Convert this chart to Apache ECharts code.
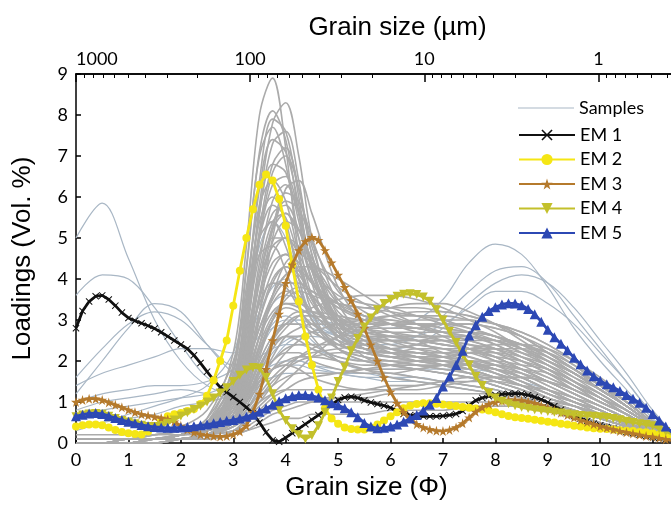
<!DOCTYPE html>
<html><head><meta charset="utf-8">
<script src="https://cdn.jsdelivr.net/npm/echarts@6/dist/echarts.min.js"></script>
<style>html,body{margin:0;padding:0;background:#fff}#c{width:671px;height:506px}</style>
</head><body><div id="c"></div>
<script>
// ---- data ----
const phiEM = [0,0.125,0.25,0.375,0.5,0.625,0.75,0.875,1,1.125,1.25,1.375,1.5,1.625,1.75,1.875,
  2,2.125,2.25,2.375,2.5,2.625,2.75,2.875,3,3.125,3.25,3.375,3.5,3.625,3.75,3.875,
  4,4.125,4.25,4.375,4.5,4.625,4.75,4.875,5,5.125,5.25,5.375,5.5,5.625,5.75,5.875,
  6,6.125,6.25,6.375,6.5,6.625,6.75,6.875,7,7.125,7.25,7.375,7.5,7.625,7.75,7.875,
  8,8.125,8.25,8.375,8.5,8.625,8.75,8.875,9,9.125,9.25,9.375,9.5,9.625,9.75,9.875,
  10,10.125,10.25,10.375,10.5,10.625,10.75,10.875,11,11.125,11.25,11.375];
const em1 = [2.80,3.22,3.45,3.58,3.60,3.50,3.35,3.18, 3.05,2.98,2.92,2.86,2.79,2.70,2.60,2.50,
  2.40,2.30,2.14,1.95,1.74,1.54,1.36,1.24, 1.12,1.00,0.87,0.72,0.50,0.26,0.07,0.03,
  0.13,0.24,0.35,0.46,0.57,0.68,0.80,0.93, 1.05,1.11,1.13,1.10,1.04,0.99,0.95,0.91,
  0.86,0.78,0.71,0.68,0.66,0.65,0.65,0.65, 0.66,0.68,0.71,0.78,0.92,1.04,1.10,1.14,
  1.17,1.19,1.20,1.21,1.20,1.17,1.12,1.06, 0.99,0.90,0.81,0.73,0.66,0.60,0.53,0.47,
  0.43,0.39,0.35,0.31,0.27,0.24,0.20,0.17, 0.15,0.13,0.09,0.05];
const em2 = [0.40,0.43,0.45,0.45,0.43,0.38,0.32,0.27, 0.24,0.22,0.21,0.28,0.40,0.55,0.65,0.70,
  0.73,0.78,0.83,0.95,1.15,1.53,2.00,2.50, 3.35,4.20,5.00,5.70,6.30,6.55,6.40,5.95,
  5.30,4.35,3.45,2.60,1.90,1.30,0.85,0.60, 0.47,0.38,0.34,0.33,0.33,0.38,0.45,0.55,
  0.65,0.75,0.85,0.91,0.95,0.97,0.97,0.96, 0.94,0.92,0.90,0.88,0.86,0.84,0.82,0.79,
  0.75,0.70,0.66,0.63,0.61,0.59,0.57,0.54, 0.52,0.50,0.47,0.45,0.42,0.40,0.38,0.36,
  0.35,0.34,0.33,0.31,0.30,0.29,0.27,0.26, 0.24,0.21,0.18,0.15];
const em3 = [1.00,1.05,1.08,1.08,1.05,0.99,0.93,0.87, 0.81,0.75,0.70,0.67,0.64,0.61,0.58,0.52,
  0.42,0.33,0.26,0.21,0.19,0.17,0.16,0.17, 0.21,0.28,0.42,0.75,1.20,1.80,2.50,3.15,
  3.90,4.35,4.70,4.92,5.02,4.95,4.70,4.40, 4.10,3.80,3.48,3.15,2.80,2.40,2.00,1.60,
  1.25,0.97,0.75,0.60,0.46,0.38,0.33,0.30, 0.29,0.32,0.38,0.48,0.62,0.76,0.87,0.95,
  1.00,1.03,1.05,1.05,1.04,1.01,0.97,0.92, 0.86,0.80,0.74,0.68,0.62,0.56,0.51,0.46,
  0.41,0.37,0.33,0.29,0.26,0.23,0.20,0.17, 0.15,0.12,0.09,0.06];
const em4 = [0.64,0.68,0.71,0.72,0.70,0.65,0.60,0.55, 0.51,0.47,0.43,0.40,0.40,0.42,0.48,0.56,
  0.66,0.74,0.82,0.90,1.00,1.10,1.22,1.35, 1.50,1.65,1.78,1.84,1.83,1.60,1.20,0.80,
  0.55,0.35,0.20,0.10,0.18,0.42,0.75,1.10, 1.50,1.85,2.25,2.55,2.83,3.05,3.25,3.40,
  3.50,3.58,3.63,3.64,3.62,3.56,3.46,3.25, 3.00,2.72,2.45,2.15,1.90,1.62,1.40,1.22,
  1.10,1.02,0.96,0.91,0.87,0.84,0.81,0.79, 0.77,0.75,0.73,0.71,0.69,0.67,0.66,0.65,
  0.64,0.62,0.60,0.57,0.53,0.50,0.47,0.45, 0.42,0.35,0.28,0.22];
const em5 = [0.65,0.69,0.72,0.73,0.71,0.66,0.61,0.56, 0.52,0.48,0.44,0.41,0.39,0.38,0.37,0.37,
  0.38,0.39,0.41,0.43,0.45,0.48,0.51,0.54, 0.56,0.60,0.64,0.69,0.76,0.84,0.93,1.02,
  1.09,1.14,1.17,1.17,1.15,1.11,1.04,0.97, 0.92,0.85,0.75,0.63,0.49,0.40,0.36,0.37,
  0.40,0.45,0.52,0.60,0.68,0.79,0.93,1.10, 1.38,1.62,1.90,2.25,2.62,2.88,3.08,3.22,
  3.31,3.38,3.41,3.40,3.36,3.27,3.14,2.96, 2.76,2.58,2.42,2.26,2.08,1.92,1.77,1.63,
  1.52,1.43,1.36,1.27,1.17,1.08,0.98,0.86, 0.71,0.55,0.40,0.25];
const emNames = ['EM 1','EM 2','EM 3','EM 4','EM 5'];

const phiS = [0,0.5,1,1.5,2,2.5,3,3.25,3.5,3.75,4,4.25,4.5,5,5.5,6,6.5,7,7.5,8,8.5,9,9.5,10,10.5,11,11.5];
// outlier samples (bluish grey)
const samplesOut = [
  [5.0,5.85,4.5,3.0,2.0,1.4,1.2,1.3,1.5,1.6,1.7,1.7,1.7,1.7,1.7,1.6,1.6,1.5,1.4,1.3,1.1,0.9,0.7,0.5,0.35,0.2,0.05],
  [3.6,4.1,4.0,3.3,2.4,1.6,1.3,1.4,1.7,1.9,2.0,2.0,1.9,1.8,1.7,1.7,1.6,1.5,1.4,1.3,1.1,0.9,0.7,0.5,0.35,0.2,0.05],
  [1.2,2.0,2.8,3.4,3.2,2.4,1.7,1.6,1.7,1.8,1.9,1.9,1.8,1.7,1.6,1.6,1.5,1.4,1.3,1.2,1.0,0.8,0.6,0.45,0.3,0.15,0.05],
  [1.6,2.3,2.9,3.2,3.0,2.4,1.9,1.9,2.1,2.3,2.4,2.4,2.3,2.1,2.0,1.9,1.8,1.7,1.6,1.4,1.2,1.0,0.8,0.6,0.4,0.2,0.05],
  [1.4,1.7,1.9,2.1,2.3,2.3,2.2,2.3,2.6,2.8,2.9,2.9,2.8,2.6,2.4,2.3,2.2,2.1,2.0,1.8,1.6,1.3,1.0,0.8,0.5,0.25,0.05],
  [1.0,1.2,1.3,1.4,1.4,1.5,1.8,2.4,3.2,3.8,4.0,3.7,3.2,2.6,2.3,2.2,2.1,2.0,1.9,1.7,1.5,1.2,1.0,0.7,0.5,0.25,0.05],
  [0.6,0.8,0.9,1.0,1.1,1.2,1.5,2.0,2.8,3.4,3.6,3.5,3.1,2.6,2.4,2.3,2.2,2.1,2.0,1.8,1.6,1.3,1.0,0.8,0.5,0.25,0.05],
  [0.3,0.5,0.7,0.9,1.1,1.4,2.2,3.4,4.8,5.4,5.0,4.0,3.1,2.3,2.0,1.9,1.8,1.7,1.6,1.4,1.2,1.0,0.8,0.6,0.4,0.2,0.05],
  [0.0,0.0,0.0,0.1,0.1,0.2,0.6,1.2,2.0,2.6,2.9,3.0,3.0,2.9,2.8,2.8,3.0,3.5,4.4,4.85,4.6,3.8,2.8,2.0,1.3,0.6,0.1],
  [0.0,0.0,0.0,0.1,0.1,0.2,0.5,1.0,1.7,2.2,2.5,2.6,2.6,2.5,2.4,2.4,2.6,3.1,3.7,4.2,4.3,3.9,3.1,2.3,1.5,0.7,0.1],
  [0.1,0.1,0.1,0.1,0.2,0.3,0.7,1.3,2.2,2.8,3.0,3.0,2.9,2.6,2.4,2.3,2.4,2.8,3.4,3.9,4.1,3.9,3.3,2.5,1.7,0.8,0.1],
  [0.0,0.0,0.0,0.0,0.1,0.2,0.4,0.8,1.4,2.0,2.4,2.6,2.7,2.7,2.6,2.5,2.6,2.9,3.3,3.7,3.7,3.4,2.9,2.2,1.5,0.7,0.1],
  [0.8,1.0,1.1,1.2,1.3,1.2,1.1,1.2,1.5,1.8,2.0,2.0,1.9,1.7,1.6,1.5,1.5,1.4,1.3,1.2,1.1,0.9,0.7,0.5,0.35,0.2,0.05],
  [0.4,0.5,0.6,0.7,0.9,1.0,1.2,1.6,2.3,2.9,3.1,2.9,2.5,2.0,1.8,1.8,1.8,1.8,1.8,1.7,1.5,1.3,1.0,0.8,0.5,0.25,0.05]
];
// main population samples (grey)
const samplesMain = [
  [0.1,0.1,0.1,0.1,0.2,0.6,2.2,4.8,8.0,8.9,7.2,4.6,3.2,2.3,2.0,1.9,1.8,1.7,1.6,1.4,1.2,1.0,0.8,0.6,0.4,0.2,0.05],
  [0.1,0.1,0.1,0.1,0.2,0.3,1.2,3.0,5.8,7.8,8.3,7.0,5.0,2.8,2.1,1.9,1.8,1.7,1.6,1.4,1.2,1.0,0.8,0.6,0.4,0.2,0.05],
  [0.0,0.0,0.0,0.1,0.1,0.4,1.7,4.2,7.1,8.1,7.4,5.6,3.9,2.5,2.2,2.1,2.0,1.9,1.8,1.6,1.4,1.1,0.9,0.7,0.5,0.25,0.05],
  [0.0,0.0,0.1,0.1,0.2,0.5,1.9,4.3,7.0,7.7,6.8,5.0,3.6,2.6,2.4,2.3,2.2,2.1,2.0,1.8,1.5,1.2,1.0,0.8,0.5,0.25,0.05],
  [0.1,0.1,0.1,0.1,0.2,0.4,1.4,3.5,6.2,7.4,7.1,5.8,4.3,2.9,2.6,2.5,2.4,2.3,2.1,1.9,1.6,1.3,1.0,0.8,0.5,0.3,0.05],
  [0.0,0.0,0.0,0.1,0.1,0.3,1.0,2.6,5.0,6.6,7.0,6.2,4.8,3.1,2.6,2.4,2.3,2.2,2.1,1.9,1.7,1.4,1.1,0.8,0.5,0.3,0.05],
  [0.1,0.1,0.1,0.2,0.3,0.6,1.8,3.8,5.8,6.4,5.9,4.6,3.5,2.7,2.6,2.6,2.5,2.4,2.3,2.1,1.8,1.5,1.2,0.9,0.6,0.3,0.05],
  [0.0,0.0,0.1,0.1,0.2,0.4,1.2,2.8,4.6,5.6,5.8,5.2,4.3,3.2,2.8,2.6,2.5,2.4,2.3,2.1,1.8,1.5,1.2,0.9,0.6,0.3,0.05],
  [0.1,0.1,0.1,0.2,0.3,0.5,1.3,2.6,4.0,4.8,5.0,4.6,3.9,3.1,2.8,2.7,2.6,2.5,2.4,2.2,1.9,1.6,1.3,1.0,0.7,0.35,0.05],
  [0.0,0.0,0.1,0.1,0.2,0.3,0.8,1.8,3.2,4.2,4.6,4.4,3.9,3.3,3.0,2.9,2.8,2.7,2.6,2.4,2.1,1.8,1.4,1.1,0.8,0.4,0.05],
  [0.1,0.1,0.1,0.2,0.3,0.5,1.0,1.8,2.8,3.5,3.9,3.9,3.7,3.3,3.1,3.0,2.9,2.8,2.7,2.5,2.2,1.9,1.5,1.2,0.8,0.4,0.05],
  [0.0,0.0,0.1,0.1,0.2,0.3,0.7,1.3,2.2,3.0,3.5,3.7,3.6,3.4,3.3,3.2,3.1,3.0,2.8,2.6,2.3,2.0,1.6,1.2,0.8,0.4,0.05],
  [0.1,0.1,0.1,0.1,0.2,0.3,0.6,1.1,1.8,2.5,3.0,3.2,3.2,3.1,3.0,3.0,2.9,2.9,2.8,2.6,2.4,2.0,1.7,1.3,0.9,0.45,0.05],
  [0.0,0.0,0.0,0.1,0.1,0.2,0.5,0.9,1.5,2.1,2.6,2.8,2.9,2.9,2.9,2.9,2.9,2.8,2.7,2.6,2.3,2.0,1.7,1.3,0.9,0.45,0.05],
  [0.1,0.1,0.1,0.1,0.2,0.3,0.6,1.0,1.6,2.0,2.3,2.4,2.4,2.4,2.5,2.6,2.6,2.6,2.6,2.5,2.3,2.0,1.7,1.3,0.9,0.45,0.05],
  [0.0,0.0,0.1,0.1,0.2,0.3,0.5,0.8,1.2,1.6,1.9,2.1,2.2,2.3,2.4,2.5,2.5,2.6,2.6,2.5,2.3,2.1,1.8,1.4,1.0,0.5,0.05],
  [0.0,0.0,0.1,0.1,0.2,0.3,0.6,1.1,1.8,2.4,2.8,3.1,3.3,3.5,3.6,3.6,3.5,3.3,3.0,2.7,2.3,1.9,1.5,1.1,0.7,0.35,0.05],
  [0.1,0.1,0.1,0.1,0.2,0.4,1.0,1.8,2.8,3.6,4.1,4.3,4.3,4.0,3.6,3.2,2.9,2.6,2.3,2.0,1.7,1.4,1.1,0.8,0.5,0.25,0.05],
  [0.0,0.0,0.0,0.1,0.2,0.3,0.9,2.2,4.0,5.2,5.6,5.2,4.4,3.4,3.0,2.7,2.5,2.2,2.0,1.7,1.4,1.1,0.9,0.6,0.4,0.2,0.05],
  [0.0,0.0,0.0,0.1,0.1,0.3,1.0,2.4,4.4,5.9,6.3,5.6,4.4,3.0,2.5,2.2,2.0,1.9,1.7,1.5,1.3,1.0,0.8,0.6,0.4,0.2,0.05],
  [0.0,0.0,0.0,0.0,0.1,0.2,0.7,1.8,3.6,5.2,6.1,5.9,5.0,3.4,2.6,2.3,2.1,1.9,1.7,1.5,1.3,1.0,0.8,0.6,0.4,0.2,0.05],
  [0.1,0.1,0.1,0.1,0.2,0.5,1.6,3.4,5.4,6.0,5.4,4.0,3.0,2.3,2.1,2.0,1.9,1.8,1.7,1.5,1.3,1.1,0.9,0.7,0.45,0.2,0.05],
  [0.2,0.2,0.2,0.3,0.4,0.8,2.0,3.5,4.6,4.8,4.2,3.3,2.6,2.0,1.8,1.7,1.6,1.5,1.4,1.3,1.1,0.9,0.7,0.5,0.35,0.2,0.05],
  [0.0,0.0,0.1,0.1,0.2,0.4,1.1,2.2,3.4,3.9,3.8,3.3,2.8,2.3,2.1,2.0,1.9,1.8,1.7,1.6,1.4,1.1,0.9,0.7,0.45,0.2,0.05],
  [0.0,0.0,0.0,0.1,0.1,0.2,0.5,1.0,1.7,2.3,2.6,2.6,2.4,2.1,2.0,2.0,2.0,2.0,2.0,1.9,1.8,1.6,1.3,1.0,0.7,0.35,0.05],
  [0.0,0.0,0.0,0.1,0.1,0.2,0.4,0.7,1.1,1.4,1.6,1.7,1.7,1.7,1.8,1.9,2.0,2.1,2.2,2.2,2.1,1.9,1.6,1.3,0.9,0.45,0.05],
  [0.1,0.1,0.1,0.2,0.2,0.3,0.5,0.7,1.0,1.2,1.3,1.3,1.3,1.3,1.3,1.4,1.4,1.5,1.5,1.5,1.4,1.3,1.1,0.9,0.6,0.3,0.05],
  [0.0,0.0,0.0,0.1,0.1,0.2,0.4,0.6,0.9,1.2,1.5,1.8,2.1,2.6,3.0,3.3,3.4,3.4,3.2,2.9,2.5,2.1,1.7,1.3,0.9,0.45,0.05],
  [0.0,0.0,0.1,0.1,0.2,0.3,0.8,1.6,2.6,3.2,3.4,3.3,3.1,2.8,2.7,2.7,2.7,2.7,2.7,2.6,2.4,2.1,1.7,1.3,0.9,0.45,0.05],
  [0.0,0.0,0.0,0.1,0.1,0.3,1.1,2.9,5.6,7.3,7.6,6.4,4.6,2.9,2.4,2.2,2.1,2.0,1.8,1.6,1.4,1.1,0.9,0.6,0.4,0.2,0.05],
  [0.1,0.1,0.1,0.1,0.2,0.4,1.5,3.6,6.4,7.9,7.6,6.0,4.2,2.7,2.3,2.2,2.1,2.0,1.9,1.7,1.5,1.2,1.0,0.7,0.45,0.2,0.05],
  [0.0,0.0,0.0,0.1,0.2,0.3,0.9,2.0,3.6,4.6,5.0,4.8,4.2,3.6,3.4,3.3,3.1,2.9,2.7,2.4,2.1,1.8,1.4,1.0,0.7,0.35,0.05],
  [0.0,0.0,0.0,0.0,0.1,0.2,0.5,1.2,2.4,3.6,4.4,4.6,4.4,3.8,3.4,3.1,2.9,2.7,2.5,2.3,2.0,1.7,1.4,1.0,0.7,0.35,0.05],
  [0.1,0.1,0.1,0.1,0.2,0.3,0.6,1.0,1.4,1.8,2.0,2.1,2.1,2.0,1.9,1.9,1.9,1.9,1.9,1.8,1.7,1.5,1.2,0.9,0.6,0.3,0.05],
  [0.0,0.0,0.0,0.1,0.1,0.2,0.3,0.5,0.7,0.9,1.0,1.1,1.1,1.1,1.1,1.2,1.2,1.2,1.2,1.2,1.1,1.0,0.8,0.6,0.4,0.2,0.05],
  [0.0,0.0,0.0,0.1,0.1,0.3,1.3,3.2,5.6,6.8,6.6,5.4,4.0,2.9,2.6,2.5,2.4,2.3,2.2,2.0,1.8,1.5,1.2,0.9,0.6,0.3,0.05],
  [0.1,0.1,0.1,0.1,0.2,0.4,1.1,2.4,4.2,5.4,5.6,5.0,4.0,3.0,2.7,2.6,2.6,2.6,2.5,2.3,2.0,1.7,1.3,1.0,0.7,0.35,0.05],
  [0.0,0.0,0.0,0.1,0.1,0.2,0.8,1.9,3.6,4.9,5.4,5.2,4.5,3.5,3.1,2.9,2.8,2.7,2.6,2.5,2.2,1.9,1.5,1.1,0.8,0.4,0.05],
  [0.0,0.0,0.0,0.1,0.2,0.4,1.4,3.1,5.0,5.8,5.5,4.5,3.5,2.6,2.3,2.2,2.1,2.0,1.9,1.8,1.6,1.3,1.0,0.8,0.5,0.25,0.05],
  [0.1,0.1,0.1,0.1,0.2,0.3,0.9,2.0,3.5,4.4,4.6,4.2,3.6,2.9,2.7,2.6,2.5,2.4,2.3,2.2,2.0,1.7,1.4,1.1,0.7,0.35,0.05],
  [0.0,0.0,0.0,0.0,0.1,0.2,0.6,1.4,2.6,3.6,4.1,4.2,3.9,3.4,3.1,2.9,2.8,2.7,2.7,2.6,2.4,2.1,1.7,1.3,0.9,0.45,0.05],
  [0.0,0.0,0.1,0.1,0.2,0.3,0.7,1.4,2.4,3.1,3.4,3.4,3.2,3.0,2.9,2.9,2.9,2.9,2.9,2.8,2.6,2.3,1.9,1.4,1.0,0.5,0.05],
  [0.0,0.0,0.0,0.1,0.1,0.2,0.5,1.0,1.8,2.5,2.9,3.1,3.1,3.0,3.0,3.1,3.2,3.2,3.1,2.9,2.6,2.2,1.8,1.4,0.9,0.45,0.05],
  [0.0,0.0,0.0,0.1,0.1,0.2,0.4,0.8,1.3,1.8,2.2,2.5,2.7,2.9,3.0,3.1,3.1,3.1,3.0,2.9,2.7,2.4,2.0,1.5,1.0,0.5,0.05],
  [0.0,0.0,0.0,0.0,0.1,0.1,0.3,0.6,1.0,1.4,1.8,2.1,2.3,2.6,2.8,2.9,3.0,3.0,3.0,2.9,2.7,2.4,2.0,1.5,1.0,0.5,0.05],
  [0.1,0.1,0.1,0.1,0.2,0.2,0.4,0.7,1.1,1.5,1.8,2.0,2.1,2.2,2.2,2.2,2.3,2.3,2.3,2.3,2.2,2.0,1.7,1.3,0.9,0.45,0.05],
  [0.0,0.0,0.0,0.1,0.1,0.2,0.3,0.5,0.8,1.1,1.3,1.5,1.6,1.7,1.8,1.8,1.8,1.9,1.9,1.9,1.8,1.7,1.4,1.1,0.8,0.4,0.05],
  [0.0,0.0,0.0,0.0,0.1,0.1,0.2,0.3,0.5,0.7,0.8,0.9,1.0,1.1,1.2,1.3,1.4,1.5,1.6,1.6,1.6,1.5,1.3,1.0,0.7,0.35,0.05],
  [0.1,0.1,0.1,0.1,0.1,0.2,0.3,0.4,0.6,0.8,0.9,1.0,1.0,1.0,1.0,1.0,1.0,1.0,1.0,1.0,1.0,0.9,0.8,0.6,0.4,0.2,0.05],
  [0.0,0.0,0.0,0.0,0.1,0.1,0.2,0.3,0.4,0.5,0.6,0.6,0.7,0.7,0.7,0.8,0.8,0.8,0.9,0.9,0.9,0.8,0.7,0.6,0.4,0.2,0.05],
  [0.0,0.0,0.1,0.1,0.2,0.4,1.2,2.8,5.0,6.3,6.5,5.6,4.2,2.8,2.3,2.1,2.0,1.9,1.8,1.6,1.4,1.2,0.9,0.7,0.45,0.2,0.05],
  [0.0,0.0,0.0,0.1,0.1,0.3,0.9,2.1,3.9,5.3,5.9,5.7,4.9,3.7,3.2,2.9,2.7,2.5,2.3,2.1,1.8,1.5,1.2,0.9,0.6,0.3,0.05],
  [0.1,0.1,0.1,0.1,0.2,0.5,1.5,3.2,5.0,5.4,4.8,3.8,3.0,2.4,2.2,2.1,2.0,2.0,1.9,1.8,1.6,1.3,1.1,0.8,0.5,0.25,0.05],
  [0.0,0.0,0.0,0.1,0.1,0.3,0.8,1.7,3.0,3.9,4.3,4.1,3.6,3.0,2.8,2.8,2.8,2.9,2.9,2.8,2.6,2.2,1.8,1.4,0.9,0.45,0.05],
  [0.0,0.0,0.0,0.0,0.1,0.2,0.5,1.1,2.1,3.0,3.6,3.8,3.7,3.4,3.3,3.3,3.3,3.2,3.1,2.9,2.6,2.2,1.8,1.3,0.9,0.45,0.05],
  [0.0,0.0,0.0,0.1,0.1,0.2,0.6,1.3,2.3,3.0,3.3,3.2,2.9,2.5,2.3,2.3,2.4,2.5,2.5,2.5,2.4,2.2,1.8,1.4,1.0,0.5,0.05],
  [0.0,0.0,0.0,0.1,0.1,0.2,0.6,1.2,2.0,2.6,2.9,2.9,2.7,2.4,2.2,2.1,2.1,2.1,2.2,2.3,2.3,2.2,1.9,1.5,1.0,0.5,0.05],
  [0.1,0.1,0.1,0.1,0.2,0.3,0.7,1.5,2.6,3.4,3.7,3.6,3.2,2.6,2.3,2.2,2.2,2.2,2.3,2.4,2.4,2.3,2.0,1.6,1.1,0.55,0.05],
  [0.0,0.0,0.0,0.1,0.1,0.2,0.5,1.0,1.6,2.0,2.2,2.2,2.0,1.8,1.7,1.7,1.8,1.9,2.0,2.0,1.9,1.8,1.5,1.2,0.8,0.4,0.05],
  [0.0,0.0,0.0,0.1,0.1,0.2,0.7,1.6,3.0,4.0,4.3,4.0,3.4,2.6,2.3,2.2,2.2,2.2,2.2,2.1,2.0,1.8,1.5,1.1,0.8,0.4,0.05],
  [0.0,0.0,0.0,0.1,0.1,0.3,1.0,2.3,4.0,5.0,5.0,4.3,3.5,2.7,2.5,2.5,2.5,2.5,2.4,2.3,2.1,1.8,1.5,1.1,0.7,0.35,0.05],
  [0.1,0.1,0.1,0.1,0.2,0.3,0.6,1.2,1.9,2.4,2.6,2.5,2.3,2.0,1.8,1.6,1.5,1.4,1.3,1.2,1.1,1.0,0.9,0.7,0.5,0.25,0.05],
  [0.0,0.0,0.0,0.1,0.1,0.2,0.5,1.0,1.5,1.8,1.9,1.8,1.6,1.4,1.3,1.3,1.3,1.4,1.5,1.6,1.6,1.5,1.3,1.0,0.7,0.35,0.05],
  [0.0,0.0,0.0,0.1,0.1,0.2,0.6,1.5,3.2,5.0,6.2,6.4,5.6,3.8,2.9,2.5,2.3,2.1,1.9,1.7,1.5,1.2,1.0,0.7,0.45,0.2,0.05],
  [0.1,0.1,0.1,0.1,0.2,0.4,1.3,3.0,5.2,6.8,7.2,6.2,4.6,3.0,2.5,2.3,2.2,2.1,2.0,1.8,1.6,1.3,1.0,0.8,0.5,0.25,0.05]
];

// top axis (grain size in µm)
const umMajor = [1000, 100, 10, 1];
const umMinor = [900,800,700,600,500,400,300,200,90,80,70,60,50,40,30,20,9,8,7,6,5,4,3,2,0.9,0.8,0.7,0.6,0.5,0.4];

// ---- build ----
const toPhi = um => Math.log2(1000 / um);
const zip = (xs, ys) => xs.map((x, i) => [x, ys[i]]);
const XMAX = 11.35;
const FONT_NUM = 'Lato';
const FONT_TITLE = 'Liberation Sans';

const series = [];
samplesOut.forEach(s => series.push({
  name: 'Samples', type: 'line', data: zip(phiS, s), smooth: 0.35, symbol: 'none',
  lineStyle: { color: '#a9b7c5', width: 1.2 }, itemStyle: { color: '#a9b7c5' }, silent: true, z: 2
}));
samplesMain.forEach(s => series.push({
  name: 'Samples', type: 'line', data: zip(phiS, s), smooth: 0.35, symbol: 'none',
  lineStyle: { color: '#ababab', width: 1.6 }, itemStyle: { color: '#ababab' }, silent: true, z: 2
}));

const crossPath = 'path://M0,1L1,0L5,4L9,0L10,1L6,5L10,9L9,10L5,6L1,10L0,9L4,5Z';
const starPath = 'path://M50,0L61,35L98,35L68,57L79,91L50,70L21,91L32,57L2,35L39,35Z';
const emDefs = [
  { data: em1, color: '#111111', symbol: crossPath, size: 7 },
  { data: em2, color: '#f5e614', symbol: 'circle', size: 8 },
  { data: em3, color: '#b57a2c', symbol: starPath, size: 10 },
  { data: em4, color: '#c3c02b', symbol: 'triangle', size: 9, rotate: 180 },
  { data: em5, color: '#2c48b4', symbol: 'triangle', size: 10 }
];
emDefs.forEach((d, k) => series.push({
  name: emNames[k], type: 'line', data: zip(phiEM, d.data), symbol: d.symbol,
  symbolSize: d.size, symbolRotate: d.rotate || 0, showAllSymbol: true,
  lineStyle: { color: d.color, width: 2.8 }, itemStyle: { color: d.color },
  silent: true, z: 3 + k
}));

const chart = echarts.init(document.getElementById('c'), null, { renderer: 'canvas' });
chart.setOption({
  animation: false,
  backgroundColor: '#fff',
  grid: { left: 76, right: 0, top: 74, bottom: 59, containLabel: false },
  legend: [
    { data: [{ name: 'Samples', icon: 'path://M0,0L60,0L60,1.3L0,1.3Z' }], orient: 'vertical', left: 513, top: 94,
      itemWidth: 56, itemHeight: 14,
      textStyle: { fontFamily: FONT_NUM, fontSize: 18, color: '#000' }, selectedMode: false },
    { data: emNames, orient: 'vertical', left: 513, top: 121, itemWidth: 56, itemHeight: 14, itemGap: 6.5,
      textStyle: { fontFamily: FONT_NUM, fontSize: 18, color: '#000' }, selectedMode: false }
  ],
  xAxis: [
    { type: 'value', position: 'bottom', min: 0, max: XMAX, interval: 1,
      axisLine: { lineStyle: { color: '#000', width: 1.5 } },
      axisTick: { inside: true, length: 5, lineStyle: { color: '#000', width: 1.5 } },
      axisLabel: { color: '#000', fontFamily: FONT_NUM, fontSize: 18, margin: 8, showMaxLabel: false },
      splitLine: { show: false },
      name: 'Grain size (Φ)', nameLocation: 'middle', nameGap: 32,
      nameTextStyle: { fontFamily: FONT_TITLE, fontSize: 26, color: '#000', padding: [0, 0, 0, -14] } },
    { type: 'value', position: 'top', min: 0, max: XMAX,
      axisLine: { lineStyle: { color: '#000', width: 1.5 } },
      axisTick: { inside: true, length: 4, customValues: umMinor.map(toPhi), lineStyle: { color: '#000', width: 1 } },
      axisLabel: { show: false }, splitLine: { show: false } },
    { type: 'value', position: 'top', min: 0, max: XMAX,
      axisLine: { show: true, lineStyle: { color: '#000', width: 1.5 } },
      axisTick: { inside: true, length: 8, customValues: umMajor.map(toPhi), lineStyle: { color: '#000', width: 1.5 } },
      axisLabel: { customValues: umMajor.map(toPhi), alignMinLabel: 'left',
        formatter: v => String(Math.round(1000 / Math.pow(2, v) * 1000) / 1000),
        color: '#000', fontFamily: FONT_NUM, fontSize: 18, margin: 6 },
      splitLine: { show: false },
      name: 'Grain size (µm)', nameLocation: 'middle', nameGap: 33,
      nameTextStyle: { fontFamily: FONT_TITLE, fontSize: 26, color: '#000', padding: [0, 0, 0, 48] } }
  ],
  yAxis: {
    type: 'value', min: 0, max: 9, interval: 1,
    axisLine: { show: true, lineStyle: { color: '#000', width: 1.5 } },
    axisTick: { show: true, inside: true, length: 5, lineStyle: { color: '#000', width: 1.5 } },
    axisLabel: { color: '#000', fontFamily: FONT_NUM, fontSize: 18, margin: 8 },
    splitLine: { show: false },
    name: 'Loadings (Vol. %)', nameLocation: 'middle', nameGap: 40, nameRotate: 90,
    nameTextStyle: { fontFamily: FONT_TITLE, fontSize: 26, color: '#000' }
  },
  series: series
});
</script></body></html>
